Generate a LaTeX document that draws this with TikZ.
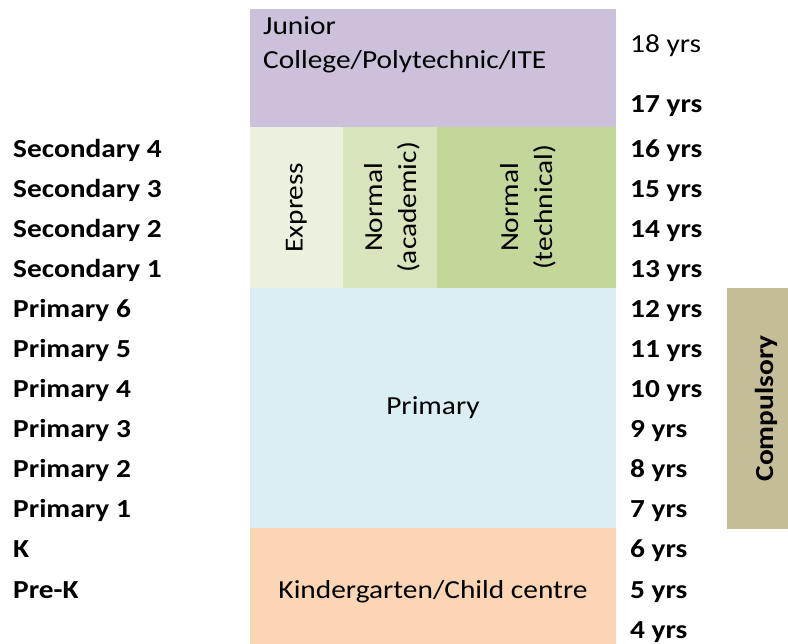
\documentclass[tikz,border=0pt]{standalone}
\usepackage{fontspec}
\setmainfont{Carlito}[FakeStretch=1.13]
\definecolor{jcpurple}{HTML}{CCC0DA}
\definecolor{expgreen}{HTML}{EBF1DE}
\definecolor{acadgreen}{HTML}{D8E4BC}
\definecolor{techgreen}{HTML}{C4D79B}
\definecolor{primblue}{HTML}{DAEEF3}
\definecolor{kgorange}{HTML}{FCD5B4}
\definecolor{compkhaki}{HTML}{C4BD97}
\begin{document}
\begin{tikzpicture}[x=1pt,y=-1pt,
  txt/.style={font=\fontsize{26}{34}\selectfont},
  yrs/.style={anchor=base west,inner sep=0pt,font=\fontsize{26}{34}\selectfont\bfseries},
  lvl/.style={anchor=base west,inner sep=0pt,font=\fontsize{26}{34}\selectfont\bfseries}]
\useasboundingbox (0,0) rectangle (788,644);
% school bands
\fill[jcpurple] (250,9) rectangle (616,127);
\fill[expgreen] (250,127) rectangle (343,288);
\fill[acadgreen] (343,127) rectangle (437,288);
\fill[techgreen] (437,127) rectangle (616,288);
\fill[primblue] (250,288) rectangle (616,528);
\fill[kgorange] (250,528) rectangle (616,644);
\fill[compkhaki] (727,288) rectangle (788,529);
% band labels
\node[txt,anchor=base west,align=left,inner sep=0pt] (jc) at (263,69) {Junior\\College/Polytechnic/ITE};
\node[txt,rotate=90] (express) at (296.5,207.5) {Express};
\node[txt,rotate=90,align=center] (acad) at (392,207.5) {Normal\\(academic)};
\node[txt,rotate=90,align=center] (tech) at (528,207.5) {Normal\\(technical)};
\node[txt] (prim) at (433,408) {Primary};
\node[txt,anchor=base] (kg) at (433,598) {Kindergarten/Child centre};
\node[txt,font=\fontsize{26}{34}\selectfont\bfseries,rotate=90] (comp) at (766,408.5) {Compulsory};
% ages
\node[yrs,font=\fontsize{26}{34}\selectfont] (age18) at (630,53) {18 yrs};
\node[yrs] (age17) at (630,113) {17 yrs};
\foreach \a in {16,...,4}
  \node[yrs] (age\a) at (630,{798-40*\a}) {\a\ yrs};
% levels
\foreach \lbl [count=\i] in {Secondary 4,Secondary 3,Secondary 2,Secondary 1,Primary 6,Primary 5,Primary 4,Primary 3,Primary 2,Primary 1,K,Pre-K}
  \node[lvl] (lvl\i) at (13,{118+40*\i}) {\lbl};
\end{tikzpicture}
\end{document}
